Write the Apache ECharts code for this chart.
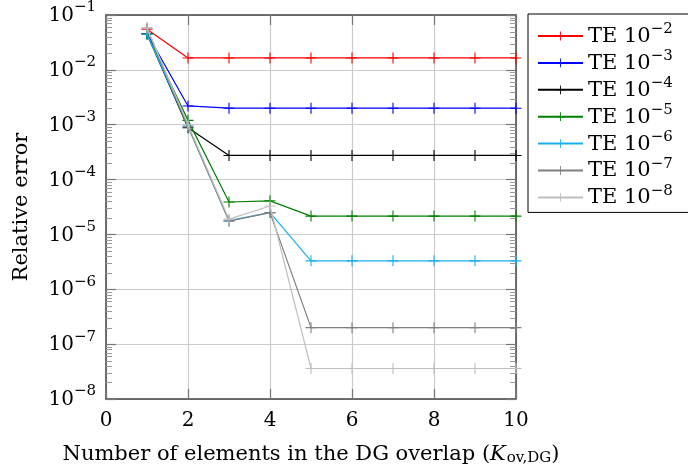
<!DOCTYPE html>
<html>
<head>
<meta charset="utf-8">
<script src="https://cdn.jsdelivr.net/npm/echarts@6/dist/echarts.min.js"></script>
<style>
html,body{margin:0;padding:0;background:#fff;}
#c{width:688px;height:471px;}
</style>
</head>
<body>
<div id="c"></div>
<script>
const xValues = [1, 2, 3, 4, 5, 6, 7, 8, 9, 10];
const seriesNames = ['TE 10^-2', 'TE 10^-3', 'TE 10^-4', 'TE 10^-5', 'TE 10^-6', 'TE 10^-7', 'TE 10^-8'];
const te2 = [0.055, 0.0165, 0.0165, 0.0165, 0.0165, 0.0165, 0.0165, 0.0165, 0.0165, 0.0165];
const te3 = [0.046, 0.0022, 0.002, 0.002, 0.002, 0.002, 0.002, 0.002, 0.002, 0.002];
const te4 = [0.045, 0.00088, 0.000275, 0.000275, 0.000275, 0.000275, 0.000275, 0.000275, 0.000275, 0.000275];
const te5 = [0.045, 0.0012, 0.000039, 0.000041, 0.0000216, 0.0000216, 0.0000216, 0.0000216, 0.0000216, 0.0000216];
const te6 = [0.045, 0.00095, 0.0000178, 0.000025, 0.0000033, 0.0000033, 0.0000033, 0.0000033, 0.0000033, 0.0000033];
const te7 = [0.058, 0.00092, 0.0000175, 0.000025, 0.0000002, 0.0000002, 0.0000002, 0.0000002, 0.0000002, 0.0000002];
const te8 = [0.058, 0.001, 0.000019, 0.000033, 0.000000036, 0.000000036, 0.000000036, 0.000000036, 0.000000036, 0.000000036];
const seriesValues = [te2, te3, te4, te5, te6, te7, te8];
const seriesColors = ['#ff0000', '#0000ff', '#000000', '#008000', '#1ab0ee', '#808080', '#bfbfbf'];
const xTicks = [0, 2, 4, 6, 8, 10];
const yDecades = [-8, -7, -6, -5, -4, -3, -2, -1];
const minorMultipliers = [2, 3, 4, 5, 6, 7, 8, 9];

const FONT = '"DejaVu Serif", serif';
const FS = 20, FSL = 21, SFS = 15;
const plus = 'path://M9,0 h2 v9 h9 v2 h-9 v9 h-2 v-9 h-9 v-2 h9 z';

const minorVals = [];
yDecades.slice(0, -1).forEach(d => minorMultipliers.forEach(m => minorVals.push([0, m * Math.pow(10, d)])));

function supLabel(v) {
  const e = Math.round(Math.log10(v));
  return '{b|10}{s|\u2212' + Math.abs(e) + '}';
}

const chart = echarts.init(document.getElementById('c'));

const series = seriesNames.map((n, i) => ({
  name: n,
  type: 'line',
  data: xValues.map((x, j) => [x, seriesValues[i][j]]),
  symbol: plus,
  symbolSize: 11,
  showSymbol: true,
  lineStyle: { color: seriesColors[i], width: 1.2 },
  itemStyle: { color: seriesColors[i] },
  emphasis: { disabled: true },
  animation: false,
  z: 3 + i
}));

series.push({
  type: 'custom',
  name: 'minor',
  data: minorVals,
  encode: { x: 0, y: 1 },
  silent: true,
  animation: false,
  z: 2,
  clip: false,
  renderItem: function (params, api) {
    const v = api.value(1);
    const pL = api.coord([0, v]);
    const pR = api.coord([10, v]);
    const yL = Math.round(pL[1]) + 0.5;
    const st = { stroke: '#9a9a9a', lineWidth: 1 };
    return {
      type: 'group',
      children: [
        { type: 'line', shape: { x1: pL[0], y1: yL, x2: pL[0] + 6, y2: yL }, style: st },
        { type: 'line', shape: { x1: pR[0], y1: yL, x2: pR[0] - 6, y2: yL }, style: st }
      ]
    };
  }
});

const axisLineStyle = { color: '#444', width: 1.5 };
const tickStyle = { color: '#777', width: 1.2 };

chart.setOption({
  animation: false,
  backgroundColor: '#fff',
  grid: { left: 106, right: 172, top: 13, bottom: 69, containLabel: false },
  xAxis: [{
    type: 'value', min: xTicks[0], max: xTicks[xTicks.length - 1], interval: 2, position: 'bottom',
    axisLine: { show: true, onZero: false, lineStyle: axisLineStyle },
    axisTick: { show: true, inside: true, length: 10, lineStyle: tickStyle },
    axisLabel: { margin: 12, fontFamily: FONT, fontSize: FS, color: '#000' },
    splitLine: { show: true, lineStyle: { color: '#cccccc', width: 1.2 } },
    name: '{n|Number of elements in the DG overlap (}{k|K}{sub|ov,DG}{n|)}',
    nameLocation: 'middle', nameGap: 44,
    nameTextStyle: {
      rich: {
        n: { fontFamily: FONT, fontSize: FSL, color: '#000' },
        k: { fontFamily: FONT, fontSize: FSL, fontStyle: 'italic', color: '#000' },
        sub: { fontFamily: FONT, fontSize: SFS, color: '#000', padding: [8, 0, 0, 1] }
      }
    }
  }, {
    type: 'value', min: xTicks[0], max: xTicks[xTicks.length - 1], interval: 2, position: 'top',
    axisLine: { show: true, onZero: false, lineStyle: axisLineStyle },
    axisTick: { show: true, inside: true, length: 10, lineStyle: tickStyle },
    axisLabel: { show: false }, splitLine: { show: false }
  }],
  yAxis: [{
    type: 'log', logBase: 10, min: 1e-8, max: 1e-1, interval: 1, position: 'left',
    axisLine: { show: true, onZero: false, lineStyle: axisLineStyle },
    axisTick: { show: true, inside: true, length: 10, lineStyle: tickStyle },
    splitLine: { show: true, lineStyle: { color: '#cccccc', width: 1.2 } },
    axisLabel: {
      margin: 10,
      formatter: supLabel,
      rich: {
        b: { fontFamily: FONT, fontSize: FS, color: '#000', verticalAlign: 'bottom', lineHeight: 22 },
        s: { fontFamily: FONT, fontSize: SFS, color: '#000', verticalAlign: 'bottom', lineHeight: 15, padding: [0, 0, 11, 0] }
      }
    },
    name: 'Relative error', nameLocation: 'middle', nameGap: 74, nameRotate: 90,
    nameTextStyle: { fontFamily: FONT, fontSize: FSL, color: '#000' }
  }, {
    type: 'log', logBase: 10, min: 1e-8, max: 1e-1, interval: 1, position: 'right',
    axisLine: { show: true, onZero: false, lineStyle: axisLineStyle },
    axisTick: { show: true, inside: true, length: 10, lineStyle: tickStyle },
    axisLabel: { show: false }, splitLine: { show: false }
  }],
  legend: {
    data: seriesNames,
    orient: 'vertical',
    left: 528, top: 14,
    padding: [8, 100, 4, 9],
    borderColor: '#000', borderWidth: 1, borderRadius: 0,
    backgroundColor: '#fff',
    itemWidth: 45, itemHeight: 11, itemGap: 1.9,
    formatter: function (name) {
      const e = name.split('^')[1].replace('-', '\u2212');
      return '{b|TE 10}{s|' + e + '}';
    },
    textStyle: {
      rich: {
        b: { fontFamily: FONT, fontSize: FSL, color: '#000', verticalAlign: 'bottom', lineHeight: 22 },
        s: { fontFamily: FONT, fontSize: SFS, color: '#000', verticalAlign: 'bottom', lineHeight: 15, padding: [0, 0, 10, 0] }
      }
    }
  },
  series: series
});
</script>
</body>
</html>
